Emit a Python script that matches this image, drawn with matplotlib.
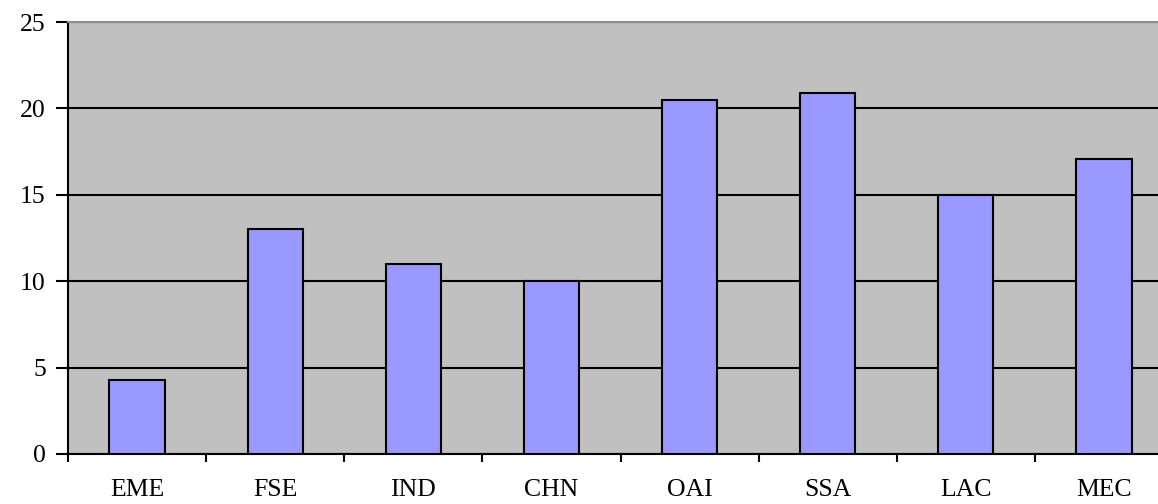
import matplotlib.pyplot as plt
import numpy as np

# data
regions = ['EME', 'FSE', 'IND', 'CHN', 'OAI', 'SSA', 'LAC', 'MEC']
values = [4.3, 13.0, 11.0, 10.0, 20.5, 20.9, 15.0, 17.1]
y_ticks = [0, 5, 10, 15, 20, 25]

plt.rcParams['font.family'] = ['Liberation Serif', 'DejaVu Serif']

fig = plt.figure(figsize=(11.58, 5.04), dpi=100)
ax = fig.add_axes([68 / 1158, 50 / 504, 1105 / 1158, 432 / 504])
ax.set_facecolor('#C0C0C0')

x = np.arange(len(regions))
ax.bar(x, values, width=0.4, color='#9999FF', edgecolor='black', linewidth=1.5, zorder=3)

# grid lines
ax.set_yticks(y_ticks)
ax.set_yticklabels([str(t) for t in y_ticks], fontsize=18.5)
ax.yaxis.grid(True, color='black', linewidth=1.5, zorder=1)
ax.set_axisbelow(True)
ax.set_ylim(0, 25)
ax.set_xlim(-0.5, len(regions) - 0.5)

# category labels centred, ticks between categories
ax.set_xticks(x)
ax.set_xticklabels(regions, fontsize=18.5)
ax.tick_params(axis='x', which='major', length=0, pad=18)
ax.set_xticks(np.arange(-0.5, len(regions), 1), minor=True)
ax.tick_params(axis='x', which='minor', length=6, width=1.5, direction='out')
ax.tick_params(axis='y', length=9, width=1.5, pad=7)

for s in ['left', 'bottom']:
    ax.spines[s].set_linewidth(1.5)
    ax.spines[s].set_color('black')
ax.spines['top'].set_color('#909090')
ax.spines['top'].set_linewidth(1.5)
ax.spines['right'].set_visible(False)

fig.savefig('out.png', dpi=100)
